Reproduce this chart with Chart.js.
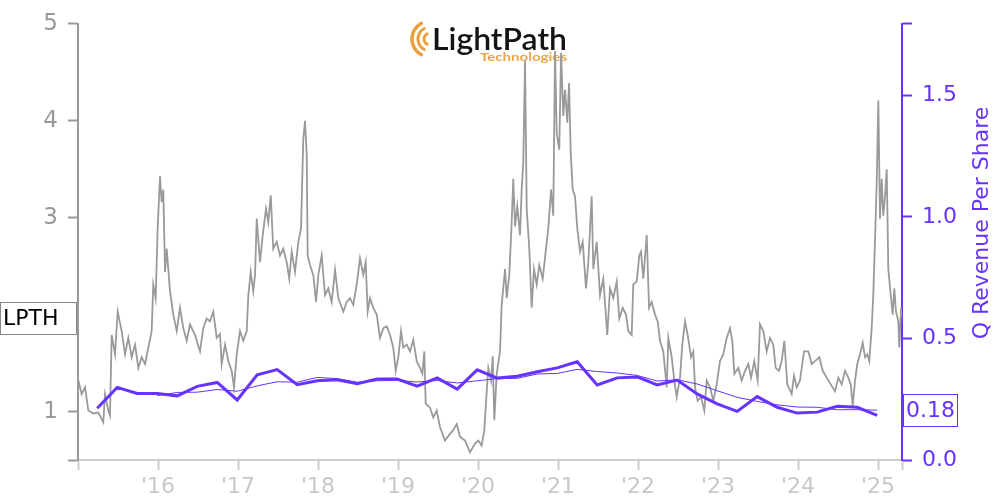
<!DOCTYPE html>
<html>
<head>
<meta charset="utf-8">
<title>LPTH - Q Revenue Per Share</title>
<script src="https://cdn.jsdelivr.net/npm/chart.js@4.4.1/dist/chart.umd.min.js"></script>
<style>
  html, body { margin: 0; padding: 0; background: #fff; }
  #chart { display: block; }
</style>
</head>
<body>
<canvas id="chart" width="1000" height="500"></canvas>
<script>
// --- data ---
const ticker = 'LPTH';

// share price (decimal year, USD)
const priceDates = [
  2015.004,2015.046,2015.088,2015.129,2015.191,2015.254,2015.316,2015.338,2015.379,2015.400,
  2015.421,2015.463,2015.496,2015.546,2015.588,2015.629,2015.671,2015.713,2015.754,2015.796,
  2015.838,2015.879,2015.921,2015.941,2015.971,2015.996,2016.025,2016.046,2016.066,2016.088,
  2016.109,2016.150,2016.191,2016.234,2016.275,2016.316,2016.359,2016.400,2016.463,2016.525,
  2016.566,2016.609,2016.650,2016.691,2016.734,2016.775,2016.796,2016.838,2016.879,2016.921,
  2016.950,2016.984,2017.025,2017.066,2017.109,2017.129,2017.159,2017.191,2017.213,2017.234,
  2017.275,2017.309,2017.350,2017.379,2017.409,2017.441,2017.484,2017.525,2017.566,2017.609,
  2017.641,2017.671,2017.713,2017.754,2017.788,2017.816,2017.838,2017.859,2017.871,2017.900,
  2017.941,2017.975,2018.004,2018.046,2018.088,2018.129,2018.171,2018.213,2018.254,2018.316,
  2018.359,2018.400,2018.441,2018.484,2018.525,2018.566,2018.596,2018.621,2018.650,2018.691,
  2018.734,2018.775,2018.816,2018.859,2018.900,2018.941,2018.971,2019.004,2019.038,2019.066,
  2019.109,2019.150,2019.191,2019.234,2019.275,2019.304,2019.329,2019.346,2019.400,2019.441,
  2019.484,2019.525,2019.588,2019.650,2019.691,2019.734,2019.775,2019.838,2019.900,2019.963,
  2020.004,2020.046,2020.079,2020.109,2020.129,2020.163,2020.184,2020.204,2020.234,2020.275,
  2020.296,2020.338,2020.359,2020.391,2020.421,2020.441,2020.463,2020.491,2020.525,2020.546,
  2020.566,2020.588,2020.609,2020.641,2020.671,2020.700,2020.734,2020.766,2020.809,2020.850,
  2020.879,2020.913,2020.941,2020.963,2020.984,2021.016,2021.038,2021.066,2021.088,2021.116,
  2021.138,2021.159,2021.184,2021.213,2021.241,2021.275,2021.309,2021.350,2021.379,2021.421,
  2021.441,2021.484,2021.525,2021.566,2021.616,2021.650,2021.691,2021.734,2021.766,2021.809,
  2021.850,2021.879,2021.921,2021.941,2021.984,2022.016,2022.038,2022.066,2022.109,2022.138,
  2022.171,2022.213,2022.246,2022.275,2022.316,2022.359,2022.379,2022.421,2022.454,2022.484,
  2022.525,2022.554,2022.588,2022.621,2022.663,2022.691,2022.713,2022.746,2022.788,2022.829,
  2022.859,2022.900,2022.941,2022.984,2023.025,2023.066,2023.109,2023.150,2023.179,2023.204,
  2023.254,2023.296,2023.338,2023.379,2023.413,2023.454,2023.496,2023.525,2023.566,2023.609,
  2023.650,2023.691,2023.721,2023.763,2023.796,2023.829,2023.866,2023.921,2023.950,2023.984,
  2024.025,2024.075,2024.129,2024.171,2024.213,2024.266,2024.309,2024.359,2024.409,2024.463,
  2024.504,2024.546,2024.588,2024.629,2024.659,2024.684,2024.713,2024.741,2024.775,2024.809,
  2024.838,2024.866,2024.891,2024.921,2024.941,2024.963,2024.984,2025.004,2025.025,2025.046,
  2025.066,2025.088,2025.109,2025.129,2025.159,2025.184,2025.204,2025.225,2025.254,2025.266,
  2025.288,2025.300
];
const priceValues = [
  1.32,1.18,1.25,1.01,0.98,0.99,0.89,1.18,1.01,0.96,
  1.79,1.59,2.03,1.83,1.59,1.76,1.56,1.69,1.45,1.56,
  1.49,1.66,1.83,2.31,2.17,2.89,3.43,3.16,3.29,2.44,
  2.68,2.24,2.00,1.83,2.07,1.86,1.73,1.90,1.79,1.62,
  1.86,1.96,1.93,2.03,1.76,1.80,1.49,1.69,1.52,1.42,
  1.25,1.59,1.83,1.73,1.83,2.20,2.44,2.24,2.41,2.99,
  2.54,2.82,3.09,2.95,3.23,2.68,2.75,2.61,2.68,2.54,
  2.37,2.65,2.44,2.75,2.89,3.81,4.00,3.64,2.61,2.51,
  2.41,2.13,2.41,2.61,2.20,2.27,2.13,2.46,2.17,2.03,
  2.13,2.17,2.10,2.31,2.58,2.41,2.54,2.03,2.17,2.07,
  2.00,1.76,1.86,1.88,1.79,1.66,1.42,1.56,1.83,1.66,
  1.69,1.62,1.74,1.52,1.45,1.39,1.62,1.08,1.04,0.94,
  1.01,0.84,0.70,0.77,0.81,0.87,0.74,0.70,0.58,0.67,
  0.70,0.65,0.81,1.21,1.45,1.32,1.57,0.91,1.39,1.62,
  2.10,2.47,2.17,2.41,2.95,3.40,2.91,3.12,2.82,3.29,
  3.57,4.62,3.09,2.68,2.07,2.47,2.31,2.51,2.37,2.68,
  2.89,3.29,3.02,4.72,3.87,3.70,4.70,4.05,4.32,3.98,
  4.39,3.67,3.29,3.22,2.89,2.65,2.75,2.27,2.54,3.22,
  2.47,2.75,2.20,2.37,1.79,2.27,2.17,2.34,1.96,2.07,
  2.00,1.83,1.79,2.31,2.34,2.61,2.65,2.37,2.82,2.07,
  2.13,2.00,1.93,1.73,1.62,1.25,1.76,1.56,1.32,1.15,
  1.35,1.69,1.93,1.79,1.56,1.62,1.25,1.11,1.15,1.01,
  1.32,1.25,1.11,1.28,1.52,1.59,1.76,1.86,1.73,1.39,
  1.45,1.32,1.42,1.49,1.35,1.52,1.32,1.90,1.83,1.62,
  1.76,1.69,1.45,1.42,1.52,1.73,1.28,1.18,1.37,1.25,
  1.32,1.62,1.62,1.49,1.52,1.56,1.42,1.35,1.28,1.21,
  1.35,1.28,1.42,1.35,1.28,1.06,1.32,1.49,1.59,1.71,
  1.56,1.59,1.52,1.86,2.20,2.78,3.36,4.21,2.99,3.40,
  3.02,3.22,3.50,2.47,2.20,2.00,2.27,2.03,1.93,1.66,
  2.07,1.97
];

// quarterly revenue per share
const revDates = [
  2015.24,2015.49,2015.74,2015.99,2016.24,2016.49,2016.74,2016.99,
  2017.24,2017.49,2017.74,2017.99,2018.24,2018.49,2018.74,2018.99,
  2019.24,2019.49,2019.74,2019.99,2020.24,2020.49,2020.74,2020.99,
  2021.24,2021.49,2021.74,2021.99,2022.24,2022.49,2022.74,2022.99,
  2023.24,2023.49,2023.74,2023.99,2024.24,2024.49,2024.74,2024.99
];
const revValues = [
  0.213,0.299,0.274,0.274,0.264,0.303,0.319,0.247,
  0.351,0.372,0.310,0.326,0.330,0.314,0.333,0.333,
  0.304,0.338,0.292,0.371,0.337,0.345,0.363,0.379,
  0.404,0.309,0.338,0.342,0.309,0.329,0.272,0.231,
  0.200,0.261,0.217,0.193,0.197,0.221,0.217,0.184
];

// smoothed (thin) revenue per share line
const avgDates = [
  2015.99,2016.24,2016.49,2016.74,2016.99,2017.24,2017.49,2017.74,2017.99,
  2018.24,2018.49,2018.74,2018.99,2019.24,2019.49,2019.74,2019.99,
  2020.24,2020.49,2020.74,2020.99,2021.24,2021.49,2021.74,2021.99,
  2022.24,2022.49,2022.74,2022.99,2023.24,2023.49,2023.74,2023.99,
  2024.24,2024.49,2024.74,2024.99
];
const avgValues = [
  0.265,0.278,0.279,0.290,0.283,0.305,0.322,0.320,0.340,
  0.335,0.320,0.326,0.328,0.321,0.327,0.317,0.326,
  0.335,0.336,0.354,0.356,0.373,0.364,0.358,0.348,
  0.325,0.330,0.313,0.285,0.258,0.241,0.227,0.218,
  0.217,0.207,0.207,0.205
];

// axes
const xStart = 2015, xEnd = 2025.3;
const yearTicks = [2016,2017,2018,2019,2020,2021,2022,2023,2024,2025];
const priceTicks = [1, 2, 3, 4, 5];
const priceMin = 0.5, priceMax = 5;
const revTicks = [0, 0.5, 1.0, 1.5];
const revMin = 0, revMax = 1.795;

// --- styling ---
const PURPLE = '#6633ff';
const PRICE_GRAY = '#9a9a9a';
const AXIS_GRAY = '#999999';
const LIGHT_GRAY = '#cccccc';
const FONT = 'DejaVu Sans';

const toXY = (xs, ys) => xs.map((x, i) => ({ x: x, y: ys[i] }));

// logo, value boxes and the rotated axis title
const decorPlugin = {
    id: 'decor',
    beforeDatasetsDraw(chart) {
        const ctx = chart.ctx;
        ctx.save();
        // orange arcs
        ctx.strokeStyle = '#e9a040';
        ctx.lineCap = 'round';
        [[6, 3], [12, 3], [18, 3.5]].forEach(([r, w]) => {
            ctx.lineWidth = w;
            ctx.beginPath();
            ctx.arc(430, 39, r, Math.PI * 0.66, Math.PI * 1.34);
            ctx.stroke();
        });
        // LightPath wordmark
        ctx.fillStyle = '#141414';
        ctx.font = '600 31px Lato';
        ctx.textBaseline = 'alphabetic';
        let w = ctx.measureText('LightPath').width;
        ctx.translate(432, 50);
        ctx.scale(135 / w, 1);
        ctx.fillText('LightPath', 0, 0);
        ctx.restore();
        ctx.save();
        ctx.fillStyle = '#eaa54a';
        ctx.font = 'bold 12px Lato';
        w = ctx.measureText('Technologies').width;
        ctx.translate(480, 61);
        ctx.scale(87 / w, 1);
        ctx.fillText('Technologies', 0, 0);
        ctx.restore();
    },
    afterDraw(chart) {
        const ctx = chart.ctx;
        const yL = chart.scales.y, yR = chart.scales.y1;
        ctx.save();
        ctx.font = '22px ' + FONT;
        ctx.textBaseline = 'middle';

        // ticker box at the last price
        const lastPrice = priceValues[priceValues.length - 1];
        let cy = Math.round(yL.getPixelForValue(lastPrice)) + 0.5;
        ctx.fillStyle = '#fff';
        ctx.fillRect(0.5, cy - 16, 76, 32);
        ctx.strokeStyle = '#888';
        ctx.lineWidth = 1;
        ctx.strokeRect(0.5, cy - 16, 76, 32);
        ctx.fillStyle = '#000';
        ctx.textAlign = 'left';
        ctx.fillText(ticker, 3, cy + 1);

        // latest revenue per share box
        const lastRev = revValues[revValues.length - 1];
        const lastAvg = avgValues[avgValues.length - 1];
        cy = Math.round(yR.getPixelForValue(lastAvg)) + 0.5;
        ctx.fillStyle = '#fff';
        ctx.fillRect(903.5, cy - 16, 54, 32);
        ctx.strokeStyle = PURPLE;
        ctx.strokeRect(903.5, cy - 16, 54, 32);
        ctx.fillStyle = PURPLE;
        ctx.fillText(lastRev.toFixed(2), 906, cy + 1);

        // right axis title, reading bottom to top
        ctx.translate(982, 223);
        ctx.rotate(-Math.PI / 2);
        ctx.textAlign = 'center';
        ctx.fillText('Q Revenue Per Share', 0, 0);
        ctx.restore();
    }
};

const ctx = document.getElementById('chart').getContext('2d');
new Chart(ctx, {
    type: 'line',
    data: {
        datasets: [
            {
                label: ticker,
                data: toXY(priceDates, priceValues),
                yAxisID: 'y',
                borderColor: PRICE_GRAY,
                borderWidth: 1.8,
                pointRadius: 0,
                tension: 0,
                order: 3
            },
            {
                label: 'Q Revenue Per Share (avg)',
                data: toXY(avgDates, avgValues),
                yAxisID: 'y1',
                borderColor: PURPLE,
                borderWidth: 1,
                pointRadius: 0,
                tension: 0,
                order: 2
            },
            {
                label: 'Q Revenue Per Share',
                data: toXY(revDates, revValues),
                yAxisID: 'y1',
                borderColor: PURPLE,
                borderWidth: 3,
                pointRadius: 0,
                tension: 0,
                order: 1
            }
        ]
    },
    options: {
        responsive: false,
        animation: false,
        devicePixelRatio: 1,
        layout: { padding: { top: 20, left: 0, right: 0, bottom: 0 } },
        plugins: { legend: { display: false }, tooltip: { enabled: false } },
        scales: {
            x: {
                type: 'linear',
                min: xStart,
                max: xEnd,
                afterBuildTicks: (scale) => {
                    scale.ticks = [xStart, ...yearTicks, xEnd].map(v => ({ value: v }));
                },
                afterFit: (scale) => { scale.height = 40; },
                grid: { drawOnChartArea: false, drawTicks: true, tickLength: 10, tickColor: LIGHT_GRAY, tickWidth: 2 },
                border: { display: true, color: LIGHT_GRAY, width: 2 },
                ticks: {
                    autoSkip: false,
                    maxRotation: 0,
                    padding: 4,
                    color: '#c8c8c8',
                    font: { family: FONT, size: 22 },
                    callback: (v) => yearTicks.includes(v) ? "'" + String(v).slice(2) : ''
                }
            },
            y: {
                position: 'left',
                min: priceMin,
                max: priceMax,
                afterBuildTicks: (scale) => {
                    scale.ticks = [priceMin, ...priceTicks].map(v => ({ value: v }));
                },
                afterFit: (scale) => { scale.width = 78; },
                grid: { drawOnChartArea: false, drawTicks: true, tickLength: 10, tickColor: AXIS_GRAY, tickWidth: 2 },
                border: { display: true, color: AXIS_GRAY, width: 2 },
                ticks: {
                    padding: 10,
                    color: AXIS_GRAY,
                    font: { family: FONT, size: 23 },
                    callback: (v) => priceTicks.includes(v) ? String(v) : ''
                }
            },
            y1: {
                position: 'right',
                min: revMin,
                max: revMax,
                afterBuildTicks: (scale) => {
                    scale.ticks = [...revTicks, revMax].map(v => ({ value: v }));
                },
                afterFit: (scale) => { scale.width = 98; },
                grid: { drawOnChartArea: false, drawTicks: true, tickLength: 10, tickColor: PURPLE, tickWidth: 2 },
                border: { display: true, color: PURPLE, width: 2 },
                ticks: {
                    padding: 10,
                    color: PURPLE,
                    font: { family: FONT, size: 22 },
                    callback: (v) => revTicks.includes(v) ? v.toFixed(1) : ''
                }
            }
        }
    },
    plugins: [decorPlugin]
});
</script>
</body>
</html>
